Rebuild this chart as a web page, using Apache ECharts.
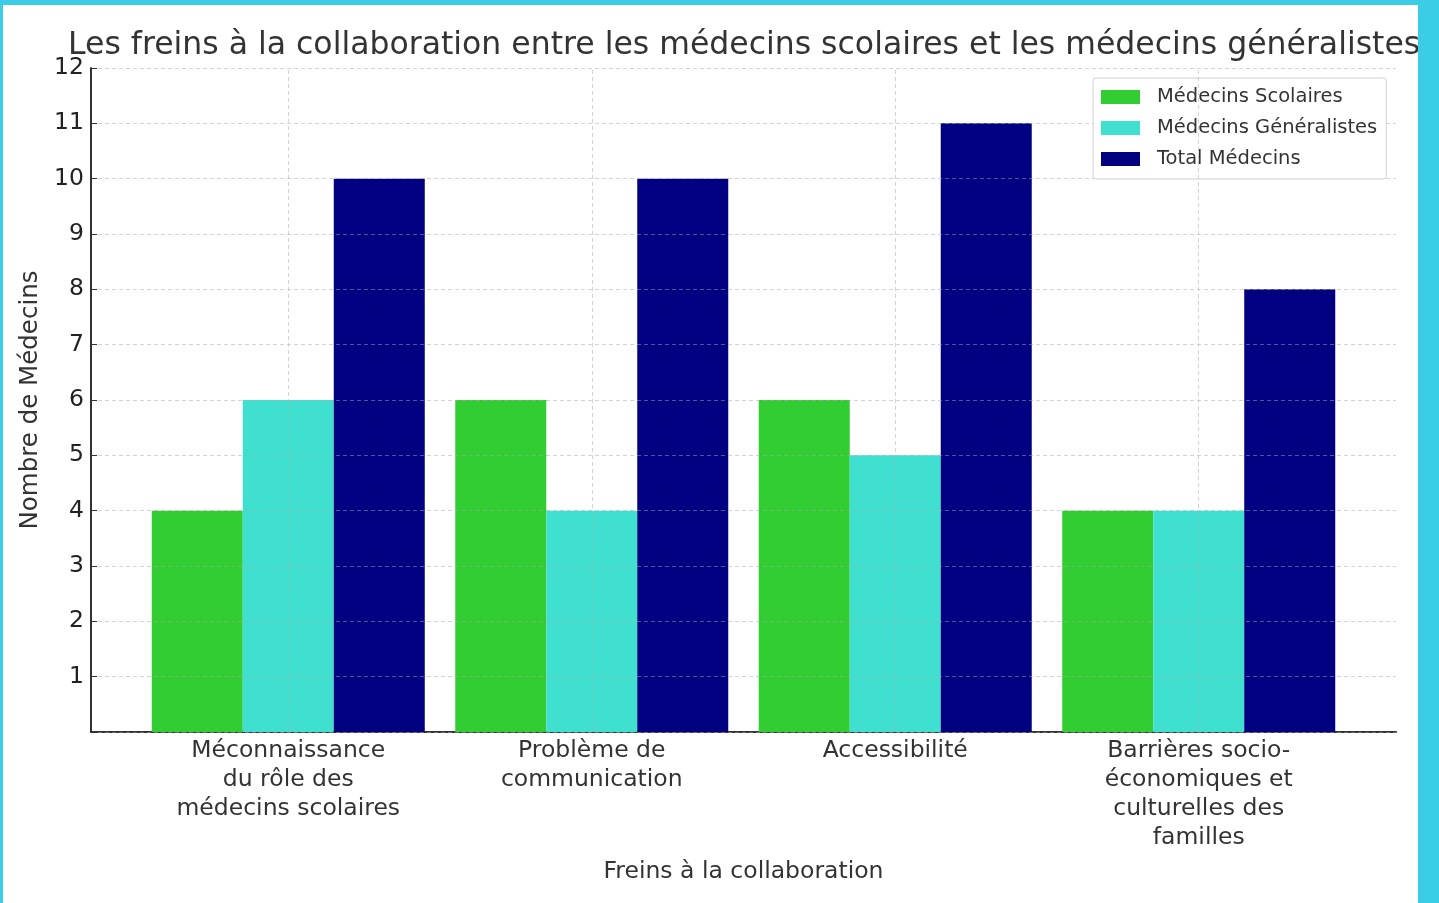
<!DOCTYPE html>
<html>
<head>
<meta charset="utf-8">
<script src="https://cdn.jsdelivr.net/npm/echarts@6/dist/echarts.min.js"></script>
<style>
  html, body { margin: 0; padding: 0; background: #3ccde6; }
  #chart { position: absolute; left: 3px; top: 5px; width: 1415px; height: 898px; background: #fff; }
</style>
</head>
<body>
<div id="chart"></div>
<script>
// categories and values
var categories = [
  'Méconnaissance\ndu rôle des\nmédecins scolaires',
  'Problème de\ncommunication',
  'Accessibilité',
  'Barrières socio-\néconomiques et\nculturelles des\nfamilles'
]
var scolaires = [4, 6, 6, 4]
var generalistes = [6, 4, 5, 4]
var total = [10, 10, 11, 8]
var yTicks = [1, 2, 3, 4, 5, 6, 7, 8, 9, 10, 11, 12]

var font = 'DejaVu Sans'
var positions = categories.map((c, i) => i)
var toPoints = arr => arr.map((v, i) => [i, v])
var gridDash = { color: 'rgba(170,170,170,0.5)', type: [4, 3], width: 1 }

var chart = echarts.init(document.getElementById('chart'))

var option = {
  animation: false,
  title: {
    text: 'Les freins à la collaboration entre les médecins scolaires et les médecins généralistes',
    left: 60,
    top: 20,
    textStyle: { fontFamily: font, fontSize: 31.5, fontWeight: 'normal', color: '#333' }
  },
  legend: {
    orient: 'vertical',
    left: 1090,
    top: 73,
    padding: [9, 9, 10, 8],
    itemWidth: 39,
    itemHeight: 14,
    itemGap: 11,
    borderColor: '#d0d0d0',
    borderWidth: 1,
    borderRadius: 3,
    backgroundColor: 'rgba(255,255,255,0.85)',
    icon: 'rect',
    textStyle: { fontFamily: font, fontSize: 19.5, color: '#333', padding: [0, 0, 0, 12] }
  },
  grid: { left: 88, top: 63, right: 22, bottom: 171 },
  xAxis: {
    type: 'value',
    min: -0.65,
    max: 3.65,
    name: 'Freins à la collaboration',
    nameLocation: 'middle',
    nameGap: 128,
    nameTextStyle: { fontFamily: font, fontSize: 23.5, color: '#333' },
    axisLine: { show: true, onZero: false, lineStyle: { color: '#333', width: 2 } },
    axisTick: { show: true, inside: true, length: 6, customValues: positions, lineStyle: { color: '#333' } },
    axisLabel: {
      customValues: positions,
      formatter: v => categories[Math.round(v)],
      fontFamily: font, fontSize: 23.5, color: '#333', lineHeight: 29, margin: 4
    },
    splitLine: { show: false }
  },
  yAxis: {
    type: 'value',
    min: 0,
    max: 12,
    interval: 1,
    z: 3,
    name: 'Nombre de Médecins',
    nameLocation: 'middle',
    nameGap: 42,
    nameTextStyle: { fontFamily: font, fontSize: 24.5, color: '#333' },
    axisLine: { show: true, onZero: false, lineStyle: { color: '#333', width: 2 } },
    axisTick: { show: true, inside: true, length: 6, lineStyle: { color: '#333' } },
    axisLabel: {
      fontFamily: font, fontSize: 23.5, color: '#222', margin: 7,
      formatter: v => (yTicks.indexOf(v) >= 0 ? String(v) : '')
    },
    splitLine: { show: true, lineStyle: gridDash }
  },
  series: [
    {
      name: 'Médecins Scolaires',
      type: 'bar',
      data: toPoints(scolaires),
      barWidth: 91,
      barGap: '0%',
      itemStyle: { color: '#32cd32' }
    },
    {
      name: 'Médecins Généralistes',
      type: 'bar',
      data: toPoints(generalistes),
      barWidth: 91,
      barGap: '0%',
      itemStyle: { color: '#40e0d0' },
      // vertical grid lines at the category centres (middle bar has no offset)
      markLine: {
        silent: true,
        z: 5,
        symbol: 'none',
        label: { show: false },
        lineStyle: gridDash,
        data: positions.map(p => ({ xAxis: p }))
      }
    },
    {
      name: 'Total Médecins',
      type: 'bar',
      data: toPoints(total),
      barWidth: 91,
      barGap: '0%',
      itemStyle: { color: '#000080' }
    }
  ]
}

chart.setOption(option)
</script>
</body>
</html>
